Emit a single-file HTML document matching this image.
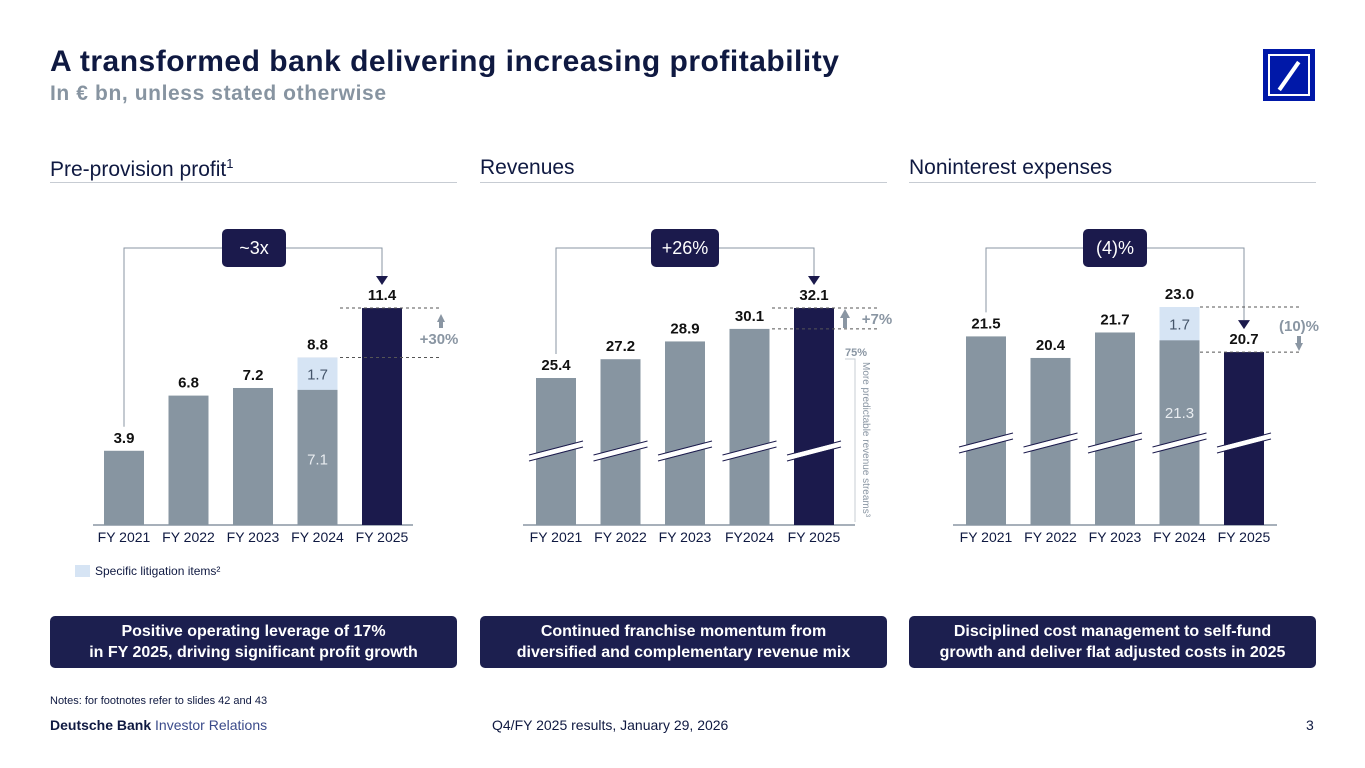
<!DOCTYPE html>
<html><head><meta charset="utf-8"><style>
body{margin:0;width:1365px;height:768px;background:#fff;font-family:"Liberation Sans",sans-serif;position:relative;overflow:hidden;color:#0f1941}
.a{position:absolute}
.sec{position:absolute;top:156px;font-size:21px;color:#0f1941;border-bottom:1px solid #c7ccd3;height:26px;width:407px}
.box{position:absolute;top:616px;height:52px;width:407px;background:#1c1f4f;border-radius:5px;color:#fff;font-weight:bold;font-size:16px;text-align:center;line-height:21px;padding-top:5px;box-sizing:border-box}
</style></head><body>
<div class="a" style="left:50px;top:45px;font-size:30px;font-weight:bold;color:#0f1941;letter-spacing:0.5px">A transformed bank delivering increasing profitability</div>
<div class="a" style="left:50px;top:82px;font-size:21px;font-weight:bold;color:#8794a1;letter-spacing:0.6px">In € bn, unless stated otherwise</div>
<div class="a" style="left:1263px;top:49px;width:52px;height:52px;background:#0018a8">
<div style="position:absolute;left:5px;top:5px;width:38px;height:38px;border:2px solid #fff"></div>
<div style="position:absolute;left:24px;top:10px;width:4px;height:34px;background:#fff;transform:rotate(35deg)"></div></div>
<div class="sec" style="left:50px">Pre-provision profit<sup style="font-size:13px">1</sup></div>
<div class="sec" style="left:480px">Revenues</div>
<div class="sec" style="left:909px">Noninterest expenses</div>
<svg class="a" style="left:0;top:0" width="1365" height="768" id="svg"></svg>
<div class="box" style="left:50px">Positive operating leverage of 17%<br>in FY 2025, driving significant profit growth</div>
<div class="box" style="left:480px">Continued franchise momentum from<br>diversified and complementary revenue mix</div>
<div class="box" style="left:909px">Disciplined cost management to self-fund<br>growth and deliver flat adjusted costs in 2025</div>
<div class="a" style="left:50px;top:695px;font-size:11px;color:#0f1941">Notes: for footnotes refer to slides 42 and 43</div>
<div class="a" style="left:50px;top:717px;font-size:14px;color:#0f1941"><b>Deutsche Bank</b> <span style="color:#3a4a8a">Investor Relations</span></div>
<div class="a" style="left:492px;top:717px;font-size:14px">Q4/FY 2025 results, January 29, 2026</div>
<div class="a" style="left:1306px;top:717px;font-size:14px">3</div>
<script>
const cats1=["FY 2021","FY 2022","FY 2023","FY 2024","FY 2025"];
const ppp=[3.9,6.8,7.2,8.8,11.4];
const pppLit=[0,0,0,1.7,0];
const cats2=["FY 2021","FY 2022","FY 2023","FY2024","FY 2025"];
const rev=[25.4,27.2,28.9,30.1,32.1];
const cats3=["FY 2021","FY 2022","FY 2023","FY 2024","FY 2025"];
const exp=[21.5,20.4,21.7,23.0,20.7];
const expLit=[0,0,0,1.7,0];
const svg=document.getElementById('svg');
const NS='http://www.w3.org/2000/svg';
function mk(t,a,txt){const e=document.createElementNS(NS,t);for(const k in a)e.setAttribute(k,a[k]);if(txt!=null)e.textContent=txt;svg.appendChild(e);return e;}
const BASE=525;
function chart(id,x0,cats,vals,lit,y,brk,ax0,ax1,innerY){
  mk('line',{x1:ax0,x2:ax1,y1:BASE,y2:BASE,stroke:'#8a96a3','stroke-width':1.5});
  const tops=[];
  vals.forEach((v,i)=>{
    const x=x0+i*64.5,last=i===vals.length-1;
    const r=mk('rect',{x:x,y:y(v),width:40,height:BASE-y(v),fill:last?'#1b1a4c':'#8795a1'});
    
    
    if(lit[i]>0){
      const l=mk('rect',{x:x,y:y(v),width:40,height:y(v-lit[i])-y(v),fill:'#d6e4f4'});
      
      
      mk('text',{x:x+20,y:(y(v)+y(v-lit[i]))/2+6,'text-anchor':'middle','font-size':15,fill:'#45556a'},lit[i].toFixed(1));
      const iy=innerY?innerY:y(v-lit[i])+(BASE-y(v-lit[i]))/2+7;
      mk('text',{x:x+20,y:iy,'text-anchor':'middle','font-size':15,fill:'#e8ecf0'},(v-lit[i]).toFixed(1));
    }
    const lb=mk('text',{x:x+20,y:y(v)-8,'text-anchor':'middle','font-size':15,'font-weight':'bold',fill:'#111'},v.toFixed(1));
    
    
    mk('text',{x:x+20,y:542,'text-anchor':'middle','font-size':14,fill:'#0f1941'},cats[i]);
    if(brk){mk('line',{x1:x-7,x2:x+47,y1:brk+8,y2:brk-6,stroke:'#fff','stroke-width':5});
      mk('line',{x1:x-7,x2:x+47,y1:brk+5,y2:brk-9,stroke:'#1b1a4c','stroke-width':1});
      mk('line',{x1:x-7,x2:x+47,y1:brk+11,y2:brk-3,stroke:'#1b1a4c','stroke-width':1});}
    tops.push([x+20,y(v)]);
  });
  return tops;
}
function bracket(id,a,b,bx,label,w){
  const top=248;
  mk('polyline',{points:`${a[0]},${a[1]-24} ${a[0]},${top} ${b[0]},${top} ${b[0]},${b[1]-32}`,fill:'none',stroke:'#8a96a3','stroke-width':1});
  mk('polygon',{points:`${b[0]-6},${b[1]-32} ${b[0]+6},${b[1]-32} ${b[0]},${b[1]-23}`,fill:'#1b1a4c'});
  const r=mk('rect',{x:bx,y:229,width:w,height:38,rx:5,fill:'#1b1a4c'});
  
  
  mk('text',{x:bx+w/2,y:254,'text-anchor':'middle','font-size':18,fill:'#fff'},label);
}
function delta(x1,x2,yA,yB,label,lx,ly){
  mk('line',{x1:x1,x2:x2,y1:yA,y2:yA,stroke:'#555','stroke-width':1,'stroke-dasharray':'3,3'});
  mk('line',{x1:x1,x2:x2,y1:yB,y2:yB,stroke:'#555','stroke-width':1,'stroke-dasharray':'3,3'});
  mk('text',{x:lx,y:ly,'text-anchor':'middle','font-size':15,'font-weight':'bold',fill:'#8a96a3'},label);
}
const y1=v=>BASE-v*19.03;
const t1=chart('ppp',104,cats1,ppp,pppLit,y1,0,93,413,0);
bracket('ppp',t1[0],t1[4],222,'~3x',64);
delta(340,442,y1(11.4),y1(8.8),'+30%',439,344);
mk('polygon',{points:'437,322 441,314 445,322',fill:'#8a96a3'});mk('rect',{x:439,y:320,width:4,height:8,fill:'#8a96a3'});
mk('rect',{x:75,y:565,width:15,height:12,fill:'#d6e4f4'});
mk('text',{x:95,y:575,'font-size':12,fill:'#0f1941'},'Specific litigation items²');
const y2=v=>308+(32.1-v)*10.45;
const t2=chart('rev',536,cats2,rev,[0,0,0,0,0],y2,450,523,855,0);
bracket('rev',t2[0],t2[4],651,'+26%',68);
delta(772,880,y2(32.1),y2(30.1),'+7%',877,324);
mk('polygon',{points:'840,318 845,309 850,318',fill:'#8a96a3'});mk('rect',{x:843,y:317,width:4,height:11,fill:'#8a96a3'});
mk('text',{x:845,y:356,'font-size':11,'font-weight':'bold',fill:'#8a96a3'},'75%');
mk('polyline',{points:'845,359 855,359 855,522',fill:'none',stroke:'#c7ccd3','stroke-width':1});
mk('text',{x:0,y:0,'font-size':10,fill:'#8a96a3',transform:'translate(863,362) rotate(90)'},'More predictable revenue streams³');
const y3=v=>307+(23.0-v)*19.6;
const t3=chart('exp',966,cats3,exp,expLit,y3,442,953,1277,418);
bracket('exp',t3[0],t3[4],1083,'(4)%',64);
delta(1200,1302,y3(23.0),y3(20.7),'(10)%',1299,331);
mk('polygon',{points:'1295,343 1303,343 1299,351',fill:'#8a96a3'});mk('rect',{x:1297,y:336,width:4,height:8,fill:'#8a96a3'});
</script>
</body></html>
